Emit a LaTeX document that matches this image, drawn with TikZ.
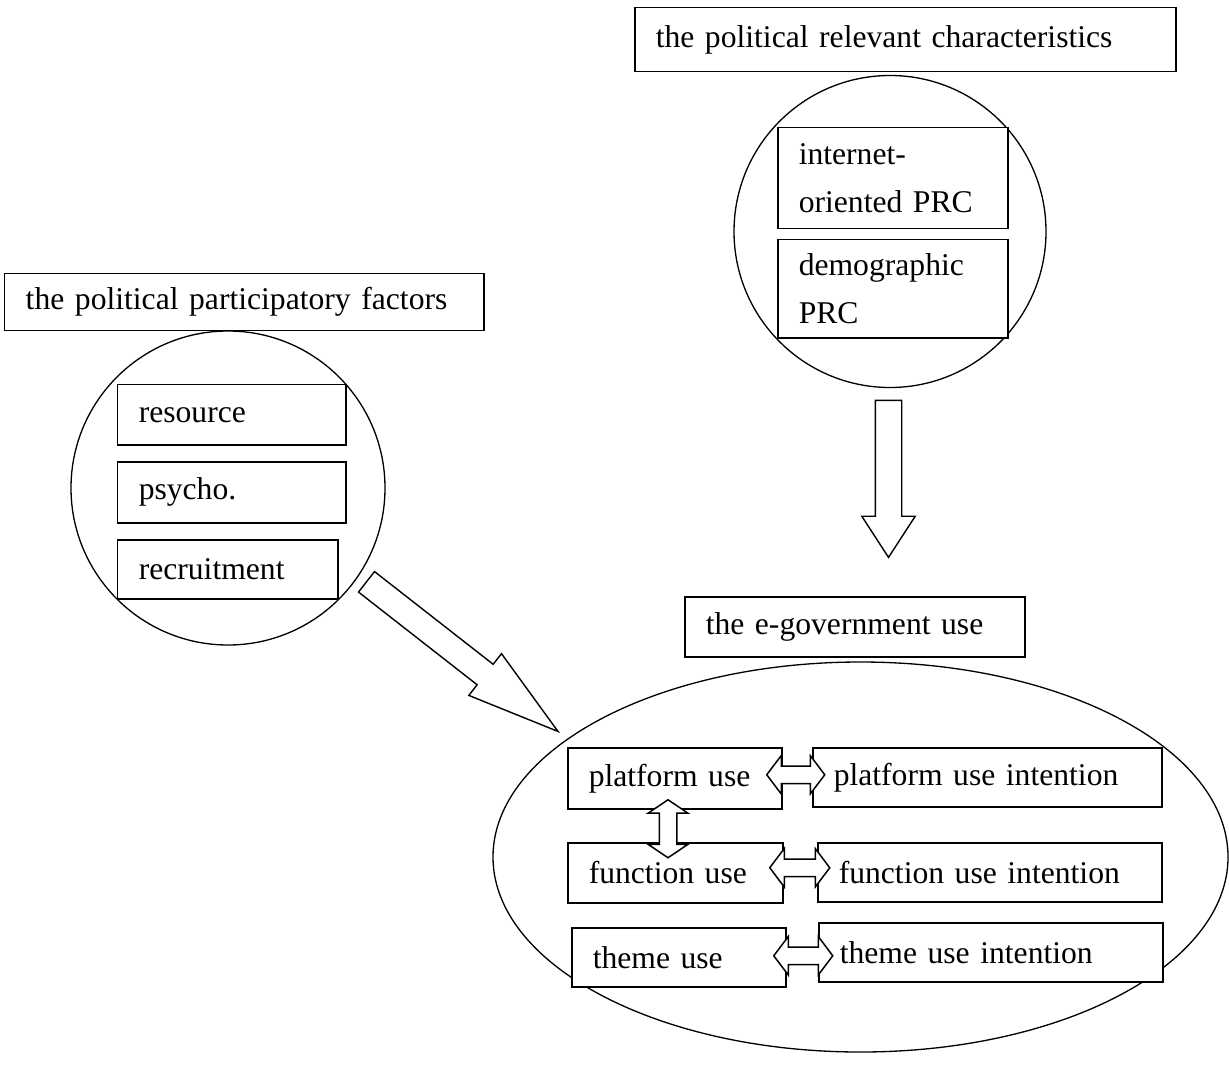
\documentclass[tikz,border=0pt]{standalone}
\usepackage{fontspec}
\setmainfont{Liberation Serif}
\usetikzlibrary{positioning,calc,shapes.geometric,shapes.arrows}

\begin{document}
\begin{tikzpicture}[
  x=0.2mm, y=-0.2mm,
  every node/.style={font=\fontsize{18}{27.3}\selectfont},
  factorbox/.style={draw, fill=white, line width=0.85pt, anchor=north west, align=left, inner xsep=4.2mm, inner ysep=0pt},
  groupcircle/.style={circle, draw, line width=0.75pt, inner sep=0pt},
  groupellipse/.style={ellipse, draw, line width=0.75pt, inner sep=0pt},
  onearrow/.style={single arrow, draw, fill=white, line width=0.8pt, inner xsep=0pt, minimum width=0pt, single arrow head extend=2.7mm},
  twoarrow/.style={double arrow, draw, fill=white, line width=0.85pt, inner xsep=0pt, inner ysep=1.6mm, minimum width=0pt, double arrow head extend=2.1mm, double arrow tip angle=106},
]
\useasboundingbox (0,0) rectangle (1229,1068);

% the three groups
\node[groupcircle, minimum size=62.8mm] (pcfc) at (228,488) {};
\node[groupcircle, minimum size=62.4mm] (prcc) at (890,231.5) {};
\node[groupellipse, minimum width=147mm, minimum height=78mm] (egovell) at (860.5,857) {};

% headings
\node[factorbox, text width=87.4mm, minimum height=11.4mm] (pcf) at (4,273) {the political participatory factors};
\node[factorbox, text width=99.8mm, minimum height=12.8mm] (prc) at (634,7) {the political relevant characteristics};
\node[factorbox, text width=59.6mm, minimum height=12mm] (egov) at (684,596) {the e-government use};

% participatory factors
\node[factorbox, text width=37.2mm, minimum height=12mm] (res) at (117,384) {resource};
\node[factorbox, text width=37.2mm, minimum height=12.2mm] (psy) at (117,461) {psycho.};
\node[factorbox, text width=35.6mm, minimum height=11.8mm] (rec) at (117,539) {recruitment};

% relevant characteristics
\node[factorbox, text width=37.6mm, minimum height=20.2mm] (iprc) at (777,127) {internet-\\oriented PRC};
\node[factorbox, text width=37.6mm, minimum height=19.6mm] (dprc) at (777,239) {demographic\\PRC};

% e-government use
\node[factorbox, text width=34.4mm, minimum height=12.2mm] (pu) at (567,747) {platform use};
\node[factorbox, text width=34.6mm, minimum height=12mm] (fu) at (567,842) {function use};
\node[factorbox, text width=34.4mm, minimum height=11.8mm] (tu) at (571,927) {theme use};
\node[factorbox, text width=61.4mm, minimum height=11.8mm] (pui) at (812,747) {platform use intention};
\node[factorbox, text width=60.4mm, minimum height=11.8mm] (fui) at (817,842) {function use intention};
\node[factorbox, text width=60.4mm, minimum height=11.8mm] (tui) at (818,922) {theme use intention};

% block arrows
\coordinate (pcftip) at (560,733);
\node[onearrow, rotate=-38, anchor=tip, minimum height=48.6mm, inner ysep=2.46mm, single arrow tip angle=32] (pcfarr) at (pcftip) {};
\node[onearrow, rotate=-90, anchor=tail, minimum height=31.4mm, inner ysep=2.5mm, single arrow tip angle=66] (prcarr) at ($(prcc.south)+(-1.5,11.5)$) {};

\node[twoarrow, minimum height=11.6mm] (puarr) at ($(pu.east)!0.5!(pui.west)+(-1.5,-3)$) {};
\node[twoarrow, minimum height=12mm] (fuarr) at ($(fu.east)!0.5!(fui.west)+(-0.5,-4.75)$) {};
\node[twoarrow, minimum height=11.8mm] (tuarr) at ($(tu.east)!0.5!(tui.west)+(1,1)$) {};
\node[twoarrow, rotate=90, minimum height=11.6mm, double arrow head extend=2.2mm, double arrow tip angle=112] (pufuarr) at ($(pu.south)!0.5!(fu.north)+(-7,3)$) {};
\end{tikzpicture}
\end{document}
